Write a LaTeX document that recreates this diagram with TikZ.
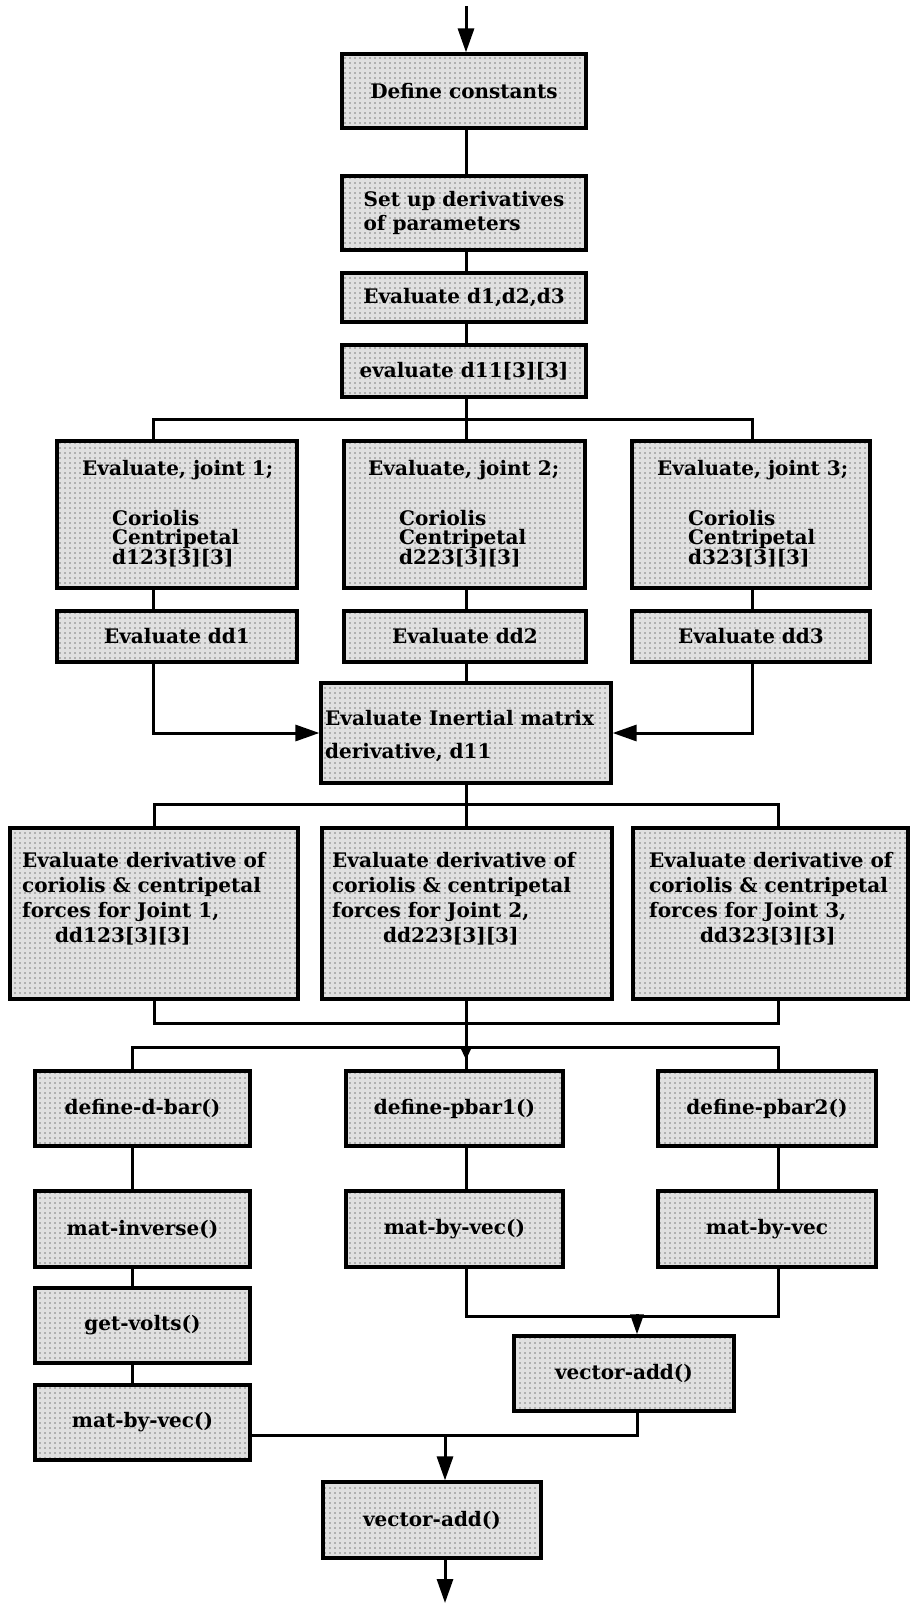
\documentclass[tikz,border=0pt]{standalone}
\usepackage{fontspec}
\setmainfont{DejaVu Serif}
\usetikzlibrary{arrows.meta,patterns,calc}

% fine stipple used as the box shading
\pgfdeclarepatternformonly{stipple}{\pgfqpoint{-1pt}{-1pt}}{\pgfqpoint{1pt}{1pt}}{\pgfqpoint{5pt}{5pt}}{%
  \pgfpathcircle{\pgfpointorigin}{0.8pt}\pgfusepath{fill}}

% box from corner (x1,y1) to (x2,y2): [opts]{x1}{y1}{x2}{y2}{name}{text}
\newcommand\procbox[7][]{%
  \node[box,#1,minimum width={(#4-#2)*1pt},minimum height={(#5-#3)*1pt}]
    (#6) at ({(#2+#4)/2},{(#3+#5)/2}) {#7};}
% block of lines with a given baseline distance
\newcommand\textlines[2]{\parbox[t]{320pt}{\fontsize{20}{#1}\selectfont\bfseries #2}}

\tikzset{
  box/.style={draw=black, line width=3.2pt, inner sep=0pt,
    preaction={fill=black!12},
    preaction={pattern=stipple, pattern color=black!50},
    font=\fontsize{20}{24}\selectfont\bfseries, align=center},
  txt/.style={inner sep=0pt, anchor=base west},
  conn/.style={line width=3pt, line cap=rect},
  arrow/.style={conn, -{Triangle[length=24pt,width=16pt]}},
  minor arrow/.style={conn, -{Triangle[length=20pt,width=13pt]}},
  tiny arrow/.style={conn, -{Triangle[length=12pt,width=10pt]}},
}

\begin{document}
\begin{tikzpicture}[x=1pt,y=-1pt]
\useasboundingbox (0,0) rectangle (910,1603);

% column positions of the connectors
\coordinate (mx) at (466,0);
\coordinate (cA) at (153,0);
\coordinate (cC) at (752,0);
\coordinate (dA) at (154,0);
\coordinate (dC) at (778,0);
\coordinate (eA) at (132,0);
\coordinate (m3) at (445,1435);

% main column
\procbox{342}{54}{586}{128}{const}{Define constants}
\procbox[align=left,font=\fontsize{20}{24}\selectfont\bfseries]{342}{176}{586}{250}{setup}{Set up derivatives\\of parameters}
\procbox{342}{273}{586}{322}{dthree}{Evaluate d1,d2,d3}
\procbox{342}{345}{586}{397}{dmat}{evaluate d11[3][3]}

% joint boxes
\procbox{57}{441}{297}{588}{jA}{}
\procbox{344}{441}{585}{588}{jB}{}
\procbox{632}{441}{870}{588}{jC}{}
\node[txt] (jAt) at (82,475) {\textlines{19.5}{Evaluate, joint 1;\\[29.5pt]\hspace*{30pt}Coriolis\\\hspace*{30pt}Centripetal\\\hspace*{30pt}d123[3][3]}};
\node[txt] (jBt) at (368,475) {\textlines{19.5}{Evaluate, joint 2;\\[29.5pt]\hspace*{31pt}Coriolis\\\hspace*{31pt}Centripetal\\\hspace*{31pt}d223[3][3]}};
\node[txt] (jCt) at (657,475) {\textlines{19.5}{Evaluate, joint 3;\\[29.5pt]\hspace*{31pt}Coriolis\\\hspace*{31pt}Centripetal\\\hspace*{31pt}d323[3][3]}};

\procbox{57}{611}{297}{662}{ddA}{Evaluate dd1}
\procbox{344}{611}{586}{662}{ddB}{Evaluate dd2}
\procbox{632}{611}{870}{662}{ddC}{Evaluate dd3}

% inertial matrix derivative
\procbox{321}{683}{611}{783}{inert}{}
\node[txt] (inertt) at (325,725) {\textlines{33}{Evaluate Inertial matrix\\derivative, d11}};

% coriolis / centripetal derivatives
\procbox{10}{828}{298}{999}{derA}{}
\procbox{322}{828}{612}{999}{derB}{}
\procbox{633}{828}{908}{999}{derC}{}
\node[txt] (derAt) at (22,867) {\textlines{25}{Evaluate derivative of\\coriolis \& centripetal\\forces for Joint 1,\\\hspace*{33pt}dd123[3][3]}};
\node[txt] (derBt) at (332,867) {\textlines{25}{Evaluate derivative of\\coriolis \& centripetal\\forces for Joint 2,\\\hspace*{51pt}dd223[3][3]}};
\node[txt] (derCt) at (649,867) {\textlines{25}{Evaluate derivative of\\coriolis \& centripetal\\forces for Joint 3,\\\hspace*{51pt}dd323[3][3]}};

% function calls
\procbox{35}{1071}{250}{1146}{dbar}{define-d-bar()}
\procbox{346}{1071}{563}{1146}{pbarA}{define-pbar1()}
\procbox{658}{1071}{876}{1146}{pbarB}{define-pbar2()}
\procbox{35}{1191}{250}{1267}{minv}{mat-inverse()}
\procbox{346}{1191}{563}{1267}{mbvA}{mat-by-vec()}
\procbox{658}{1191}{876}{1267}{mbvB}{mat-by-vec}
\procbox{35}{1288}{250}{1363}{volts}{get-volts()}
\procbox{35}{1385}{250}{1460}{mbvC}{mat-by-vec()}
\procbox{514}{1336}{734}{1411}{vaddA}{vector-add()}
\procbox{323}{1482}{541}{1558}{vaddB}{vector-add()}

% connectors, top part
\coordinate (start) at (466,8);
\draw[arrow] (start) -- (const.north -| mx);
\draw[conn] (const.south -| mx) -- (setup.north -| mx);
\draw[conn] (setup.south -| mx) -- (dthree.north -| mx);
\draw[conn] (dthree.south -| mx) -- (dmat.north -| mx);
\draw[conn] (dmat.south -| mx) -- (466,419) coordinate (bA);
\draw[conn] (jA.north -| cA) |- (bA) -| (jC.north -| cC);
\draw[conn] (bA) -- (jB.north -| mx);
\draw[conn] (jA.south -| cA) -- (ddA.north -| cA);
\draw[conn] (jB.south -| mx) -- (ddB.north -| mx);
\draw[conn] (jC.south -| cC) -- (ddC.north -| cC);
\draw[arrow] (ddA.south -| cA) |- (inert.west);
\draw[arrow] (ddC.south -| cC) |- (inert.east);
\draw[conn] (ddB.south -| mx) -- (inert.north -| mx);

% connectors, middle part
\draw[conn] (inert.south -| mx) -- (466,804) coordinate (bB);
\draw[conn] (derA.north -| dA) |- (bB) -| (derC.north -| dC);
\draw[conn] (bB) -- (derB.north -| mx);
\draw[conn] (derA.south -| dA) |- (466,1023) coordinate (mA) -| (derC.south -| dC);
\draw[conn] (derB.south -| mx) -- (mA);
\draw[conn] (mA) -- (pbarA.north -| mx);
\coordinate (bC) at (466,1047);
\draw[tiny arrow] (bC) -- (466,1060);
\draw[conn] (dbar.north -| eA) |- (bC) -| (pbarB.north -| dC);

% connectors, lower part
\draw[conn] (dbar.south -| eA) -- (minv.north -| eA);
\draw[conn] (minv.south -| eA) -- (volts.north -| eA);
\draw[conn] (volts.south -| eA) -- (mbvC.north -| eA);
\draw[conn] (pbarA.south -| mx) -- (mbvA.north -| mx);
\draw[conn] (pbarB.south -| dC) -- (mbvB.north -| dC);
\coordinate (mB) at (637,1316);
\draw[conn] (mbvA.south -| mx) |- (mB) -| (mbvB.south -| dC);
\draw[minor arrow] (mB) -- (vaddA.north -| mB);
\draw[conn] (vaddA.south -| mB) |- (mbvC.east |- m3);
\draw[arrow] (m3) -- (vaddB.north -| m3);
\coordinate (finish) at (445,1603);
\draw[arrow] (vaddB.south -| m3) -- (finish);
\end{tikzpicture}
\end{document}
